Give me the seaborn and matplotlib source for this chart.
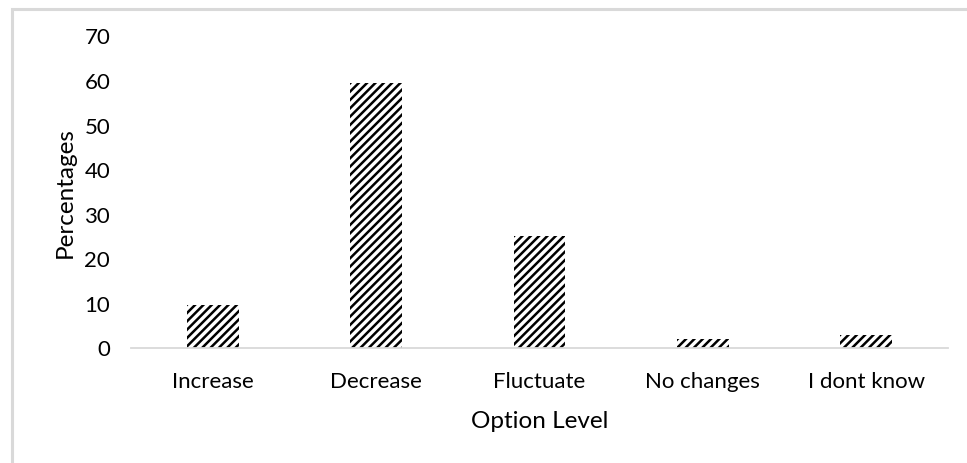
import matplotlib
matplotlib.use("Agg")
import matplotlib.pyplot as plt
from matplotlib.patches import Rectangle
import seaborn as sns
import pandas as pd

# Survey responses by option level
categories = ["Increase", "Decrease", "Fluctuate", "No changes", "I dont know"]
percentages = [9.7, 59.5, 25.3, 2.2, 3.0]
y_ticks = [0, 10, 20, 30, 40, 50, 60, 70]

sns.set_theme(style="white")
plt.rcParams["font.family"] = ["Lato", "DejaVu Sans"]
plt.rcParams["hatch.linewidth"] = 1.8

W, H = 967, 463
fig = plt.figure(figsize=(W / 100, H / 100), dpi=100)
ax = fig.add_axes([131 / W, 1 - 348.3 / H, (948 - 131) / W, (348.3 - 36.5) / H])

df = pd.DataFrame({"Option Level": categories, "Percentages": percentages})
sns.barplot(data=df, x="Option Level", y="Percentages", ax=ax,
            color="white", width=0.316, edgecolor="black", linewidth=0,
            hatch="////", saturation=1)

ax.set_ylim(0, 70)
ax.set_yticks(y_ticks)
ax.set_xlim(-0.5, len(categories) - 0.5)

for side in ["top", "right", "left"]:
    ax.spines[side].set_visible(False)
ax.spines["bottom"].set_color("#d9d9d9")
ax.spines["bottom"].set_linewidth(1.3)
ax.grid(False)

ax.tick_params(axis="both", length=0, labelsize=16, colors="black")
ax.tick_params(axis="y", pad=15)
ax.tick_params(axis="x", pad=17)
ax.set_xlabel("Option Level", fontsize=17.5, labelpad=14, color="black")
ax.set_ylabel("Percentages", fontsize=17.5, labelpad=6, color="black")

# light frame around the chart area
fig.patches.append(Rectangle((11.5 / W, -0.1), 1.2, 1 - 8.5 / H + 0.1,
                             transform=fig.transFigure, fill=False,
                             edgecolor="#d9d9d9", linewidth=2.2))

fig.savefig("out.png", dpi=100)
